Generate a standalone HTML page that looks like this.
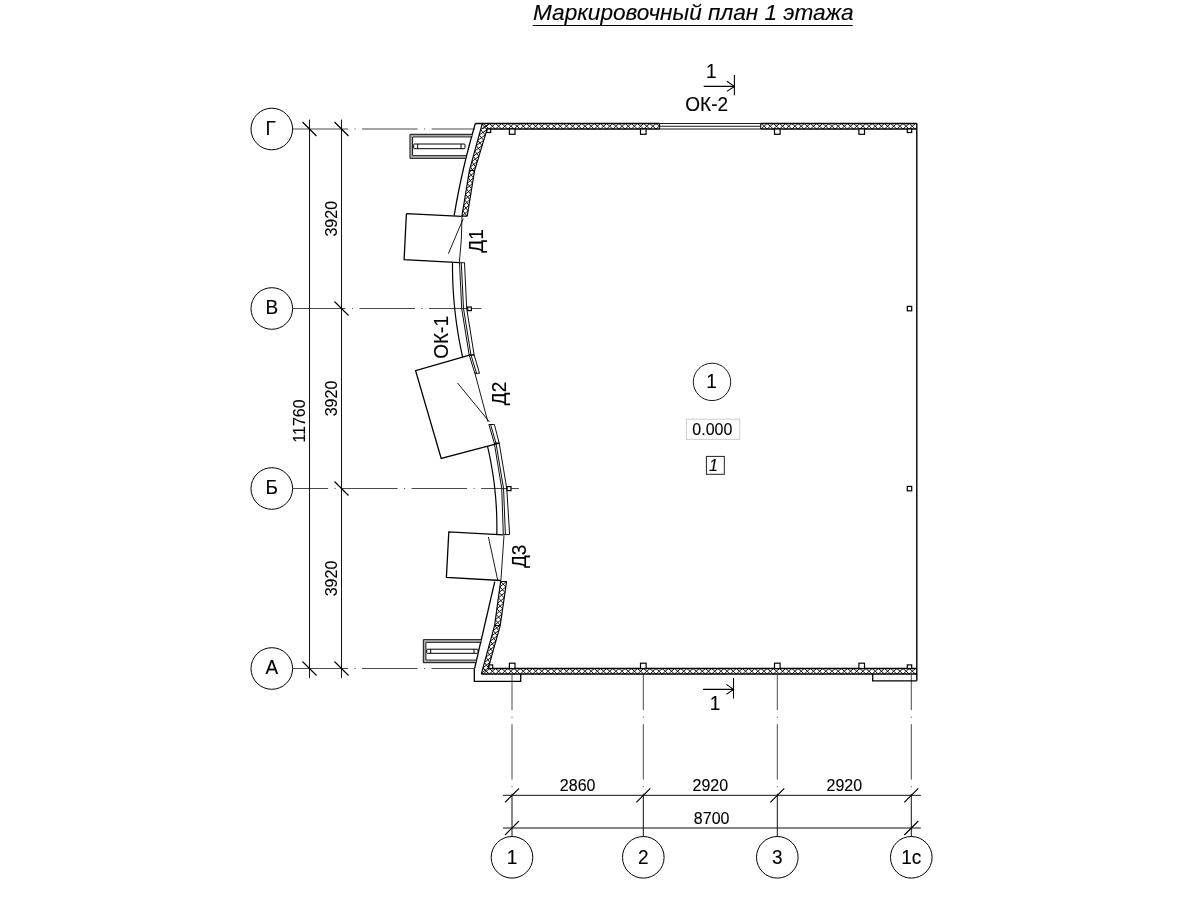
<!DOCTYPE html><html><head><meta charset="utf-8"><style>html,body{margin:0;padding:0;background:#fff;}svg{display:block;will-change:transform;}text{font-family:"Liberation Sans", sans-serif;fill:#000;}</style></head><body>
<svg width="1200" height="900" viewBox="0 0 1200 900">
<rect width="1200" height="900" fill="#fff"/>
<text transform="translate(533.00,20.30)" font-size="22.6" text-anchor="start" font-style="italic" stroke="#000" stroke-width="0.12">Маркировочный план 1 этажа</text>
<line x1="532.7" y1="25.5" x2="852.7" y2="25.5" stroke="#000" stroke-width="1"/>
<circle cx="271.8" cy="129.0" r="20.8" fill="none" stroke="#000" stroke-width="1"/>
<text transform="translate(270.55,134.70) scale(1,1.04)" font-size="19" text-anchor="middle" stroke="#000" stroke-width="0.12">Г</text>
<circle cx="271.8" cy="308.5" r="20.8" fill="none" stroke="#000" stroke-width="1"/>
<text transform="translate(271.80,313.80) scale(1,1.04)" font-size="19" text-anchor="middle" stroke="#000" stroke-width="0.12">В</text>
<circle cx="271.8" cy="488.5" r="20.8" fill="none" stroke="#000" stroke-width="1"/>
<text transform="translate(271.80,493.80) scale(1,1.04)" font-size="19" text-anchor="middle" stroke="#000" stroke-width="0.12">Б</text>
<circle cx="271.8" cy="668.5" r="20.8" fill="none" stroke="#000" stroke-width="1"/>
<text transform="translate(271.80,673.80) scale(1,1.04)" font-size="19" text-anchor="middle" stroke="#000" stroke-width="0.12">А</text>
<path d="M292.6,129.0 L348.1,129.0 M354.6,129.0 L355.6,129.0 M362.1,129.0 L417.6,129.0 M424.1,129.0 L425.1,129.0 M431.6,129.0 L475,129.0" stroke="#4a4a4a" stroke-width="1" fill="none"/>
<path d="M292.6,308.5 L345.5,308.5 M352,308.5 L353,308.5 M359.5,308.5 L415,308.5 M421.5,308.5 L422.5,308.5 M429,308.5 L481.4,308.5" stroke="#4a4a4a" stroke-width="1" fill="none"/>
<path d="M292.6,488.5 L328.1,488.5 M334.6,488.5 L335.6,488.5 M342.1,488.5 L397.6,488.5 M404.1,488.5 L405.1,488.5 M411.6,488.5 L467.1,488.5 M473.6,488.5 L474.6,488.5 M481.1,488.5 L518.8,488.5" stroke="#4a4a4a" stroke-width="1" fill="none"/>
<path d="M292.6,668.5 L348.1,668.5 M354.6,668.5 L355.6,668.5 M362.1,668.5 L417.6,668.5 M424.1,668.5 L425.1,668.5 M431.6,668.5 L474.3,668.5" stroke="#4a4a4a" stroke-width="1" fill="none"/>
<path d="M309.5,119.6 L309.5,677.9 M341.5,119.6 L341.5,677.9" stroke="#111" stroke-width="1" fill="none"/>
<path d="M302.5,122 L316.5,136 M302.5,661.5 L316.5,675.5 M334.5,122 L348.5,136 M334.5,301.5 L348.5,315.5 M334.5,481.5 L348.5,495.5 M334.5,661.5 L348.5,675.5" stroke="#000" stroke-width="1.2" fill="none"/>
<text transform="translate(337.30,218.75) rotate(-90) scale(1,1.04)" font-size="16" text-anchor="middle" stroke="#000" stroke-width="0.12">3920</text>
<text transform="translate(337.30,398.50) rotate(-90) scale(1,1.04)" font-size="16" text-anchor="middle" stroke="#000" stroke-width="0.12">3920</text>
<text transform="translate(337.30,578.50) rotate(-90) scale(1,1.04)" font-size="16" text-anchor="middle" stroke="#000" stroke-width="0.12">3920</text>
<text transform="translate(305.30,421.00) rotate(-90) scale(1,1.04)" font-size="16" text-anchor="middle" stroke="#000" stroke-width="0.12">11760</text>
<circle cx="512.0" cy="857.3" r="20.8" fill="none" stroke="#000" stroke-width="1"/>
<text transform="translate(512.00,863.80) scale(1,1.04)" font-size="19" text-anchor="middle" stroke="#000" stroke-width="0.12">1</text>
<circle cx="643.3" cy="857.3" r="20.8" fill="none" stroke="#000" stroke-width="1"/>
<text transform="translate(643.30,863.80) scale(1,1.04)" font-size="19" text-anchor="middle" stroke="#000" stroke-width="0.12">2</text>
<circle cx="777.3" cy="857.3" r="20.8" fill="none" stroke="#000" stroke-width="1"/>
<text transform="translate(777.30,863.80) scale(1,1.04)" font-size="19" text-anchor="middle" stroke="#000" stroke-width="0.12">3</text>
<circle cx="911.3" cy="857.3" r="20.8" fill="none" stroke="#000" stroke-width="1"/>
<text transform="translate(911.30,863.80) scale(1,1.04)" font-size="19" text-anchor="middle" stroke="#000" stroke-width="0.12">1с</text>
<path d="M512.0,674.5 L512.0,710.2 M512.0,716.7 L512.0,717.7 M512.0,724.2 L512.0,779.7 M512.0,786.2 L512.0,787.2 M512.0,793.7 L512.0,795.3" stroke="#4a4a4a" stroke-width="1" fill="none"/>
<path d="M512.0,795.3 L512.0,836.5" stroke="#111" stroke-width="1" fill="none"/>
<path d="M643.3,674.5 L643.3,710.2 M643.3,716.7 L643.3,717.7 M643.3,724.2 L643.3,779.7 M643.3,786.2 L643.3,787.2 M643.3,793.7 L643.3,795.3" stroke="#4a4a4a" stroke-width="1" fill="none"/>
<path d="M643.3,795.3 L643.3,836.5" stroke="#111" stroke-width="1" fill="none"/>
<path d="M777.3,674.5 L777.3,710.2 M777.3,716.7 L777.3,717.7 M777.3,724.2 L777.3,779.7 M777.3,786.2 L777.3,787.2 M777.3,793.7 L777.3,795.3" stroke="#4a4a4a" stroke-width="1" fill="none"/>
<path d="M777.3,795.3 L777.3,836.5" stroke="#111" stroke-width="1" fill="none"/>
<path d="M911.3,674.5 L911.3,710.2 M911.3,716.7 L911.3,717.7 M911.3,724.2 L911.3,779.7 M911.3,786.2 L911.3,787.2 M911.3,793.7 L911.3,795.3" stroke="#4a4a4a" stroke-width="1" fill="none"/>
<path d="M911.3,795.3 L911.3,836.5" stroke="#111" stroke-width="1" fill="none"/>
<path d="M503,795.3 L920.8,795.3 M503,828 L920.8,828" stroke="#111" stroke-width="1" fill="none"/>
<path d="M505,802.3 L519,788.3 M636.3,802.3 L650.3,788.3 M770.3,802.3 L784.3,788.3 M904.3,802.3 L918.3,788.3 M505,835 L519,821 M904.3,835 L918.3,821" stroke="#000" stroke-width="1.2" fill="none"/>
<text transform="translate(577.65,791.00) scale(1,1.04)" font-size="16" text-anchor="middle" stroke="#000" stroke-width="0.12">2860</text>
<text transform="translate(710.30,791.00) scale(1,1.04)" font-size="16" text-anchor="middle" stroke="#000" stroke-width="0.12">2920</text>
<text transform="translate(844.30,791.00) scale(1,1.04)" font-size="16" text-anchor="middle" stroke="#000" stroke-width="0.12">2920</text>
<text transform="translate(711.65,824.00) scale(1,1.04)" font-size="16" text-anchor="middle" stroke="#000" stroke-width="0.12">8700</text>
<path d="M475.35,123.5 L659.6,123.5 M760.7,123.5 L916.8,123.5" stroke="#000" fill="none" stroke-width="1.5"/>
<path d="M659.6,123.5 L760.7,123.5" stroke="#000" fill="none" stroke-width="0.9"/>
<path d="M486.7,129.0 L659.6,129.0 M760.7,129.0 L916.8,129.0" stroke="#000" fill="none" stroke-width="1.3"/>
<path d="M659.6,123.5 L659.6,129.0 M760.7,123.5 L760.7,129.0" stroke="#000" fill="none" stroke-width="1"/>
<path d="M659.6,126.25 L760.7,126.25 M659.6,129.0 L760.7,129.0" stroke="#000" fill="none" stroke-width="0.9"/>
<clipPath id="cTop"><rect x="482.5" y="123" width="177.1" height="6.5"/><rect x="760.7" y="123" width="156.1" height="6.5"/></clipPath>
<clipPath id="cBot"><rect x="482" y="668" width="434.8" height="6.5"/></clipPath>
<path clip-path="url(#cTop)" d="M470.78,123.5 L476.95,129 M470.78,129 L476.95,123.5 M476.95,123.5 L483.13,129 M476.95,129 L483.13,123.5 M483.13,123.5 L489.3,129 M483.13,129 L489.3,123.5 M489.3,123.5 L495.48,129 M489.3,129 L495.48,123.5 M495.48,123.5 L501.65,129 M495.48,129 L501.65,123.5 M501.65,123.5 L507.83,129 M501.65,129 L507.83,123.5 M507.83,123.5 L514,129 M507.83,129 L514,123.5 M514,123.5 L520.18,129 M514,129 L520.18,123.5 M520.18,123.5 L526.35,129 M520.18,129 L526.35,123.5 M526.35,123.5 L532.52,129 M526.35,129 L532.52,123.5 M532.52,123.5 L538.7,129 M532.52,129 L538.7,123.5 M538.7,123.5 L544.87,129 M538.7,129 L544.87,123.5 M544.87,123.5 L551.05,129 M544.87,129 L551.05,123.5 M551.05,123.5 L557.22,129 M551.05,129 L557.22,123.5 M557.22,123.5 L563.4,129 M557.22,129 L563.4,123.5 M563.4,123.5 L569.57,129 M563.4,129 L569.57,123.5 M569.57,123.5 L575.75,129 M569.57,129 L575.75,123.5 M575.75,123.5 L581.92,129 M575.75,129 L581.92,123.5 M581.92,123.5 L588.1,129 M581.92,129 L588.1,123.5 M588.1,123.5 L594.27,129 M588.1,129 L594.27,123.5 M594.27,123.5 L600.45,129 M594.27,129 L600.45,123.5 M600.45,123.5 L606.62,129 M600.45,129 L606.62,123.5 M606.62,123.5 L612.8,129 M606.62,129 L612.8,123.5 M612.8,123.5 L618.97,129 M612.8,129 L618.97,123.5 M618.97,123.5 L625.15,129 M618.97,129 L625.15,123.5 M625.15,123.5 L631.32,129 M625.15,129 L631.32,123.5 M631.32,123.5 L637.5,129 M631.32,129 L637.5,123.5 M637.5,123.5 L643.67,129 M637.5,129 L643.67,123.5 M643.67,123.5 L649.85,129 M643.67,129 L649.85,123.5 M649.85,123.5 L656.02,129 M649.85,129 L656.02,123.5 M656.02,123.5 L662.2,129 M656.02,129 L662.2,123.5 M662.2,123.5 L668.37,129 M662.2,129 L668.37,123.5 M668.37,123.5 L674.55,129 M668.37,129 L674.55,123.5 M674.55,123.5 L680.72,129 M674.55,129 L680.72,123.5 M680.72,123.5 L686.9,129 M680.72,129 L686.9,123.5 M686.9,123.5 L693.07,129 M686.9,129 L693.07,123.5 M693.07,123.5 L699.25,129 M693.07,129 L699.25,123.5 M699.25,123.5 L705.42,129 M699.25,129 L705.42,123.5 M705.42,123.5 L711.6,129 M705.42,129 L711.6,123.5 M711.6,123.5 L717.77,129 M711.6,129 L717.77,123.5 M717.77,123.5 L723.95,129 M717.77,129 L723.95,123.5 M723.95,123.5 L730.12,129 M723.95,129 L730.12,123.5 M730.12,123.5 L736.3,129 M730.12,129 L736.3,123.5 M736.3,123.5 L742.47,129 M736.3,129 L742.47,123.5 M742.47,123.5 L748.65,129 M742.47,129 L748.65,123.5 M748.65,123.5 L754.82,129 M748.65,129 L754.82,123.5 M754.82,123.5 L761,129 M754.82,129 L761,123.5 M761,123.5 L767.17,129 M761,129 L767.17,123.5 M767.17,123.5 L773.35,129 M767.17,129 L773.35,123.5 M773.35,123.5 L779.52,129 M773.35,129 L779.52,123.5 M779.52,123.5 L785.7,129 M779.52,129 L785.7,123.5 M785.7,123.5 L791.87,129 M785.7,129 L791.87,123.5 M791.87,123.5 L798.05,129 M791.87,129 L798.05,123.5 M798.05,123.5 L804.22,129 M798.05,129 L804.22,123.5 M804.22,123.5 L810.4,129 M804.22,129 L810.4,123.5 M810.4,123.5 L816.57,129 M810.4,129 L816.57,123.5 M816.57,123.5 L822.75,129 M816.57,129 L822.75,123.5 M822.75,123.5 L828.92,129 M822.75,129 L828.92,123.5 M828.92,123.5 L835.1,129 M828.92,129 L835.1,123.5 M835.1,123.5 L841.27,129 M835.1,129 L841.27,123.5 M841.27,123.5 L847.45,129 M841.27,129 L847.45,123.5 M847.45,123.5 L853.62,129 M847.45,129 L853.62,123.5 M853.62,123.5 L859.8,129 M853.62,129 L859.8,123.5 M859.8,123.5 L865.97,129 M859.8,129 L865.97,123.5 M865.97,123.5 L872.15,129 M865.97,129 L872.15,123.5 M872.15,123.5 L878.32,129 M872.15,129 L878.32,123.5 M878.32,123.5 L884.5,129 M878.32,129 L884.5,123.5 M884.5,123.5 L890.67,129 M884.5,129 L890.67,123.5 M890.67,123.5 L896.85,129 M890.67,129 L896.85,123.5 M896.85,123.5 L903.02,129 M896.85,129 L903.02,123.5 M903.02,123.5 L909.2,129 M903.02,129 L909.2,123.5 M909.2,123.5 L915.37,129 M909.2,129 L915.37,123.5 M915.37,123.5 L921.55,129 M915.37,129 L921.55,123.5" stroke="#000" fill="none" stroke-width="0.9"/>
<path d="M916.8,123.5 L916.8,680.8" stroke="#000" fill="none" stroke-width="1.4"/>
<path d="M488,668.5 L916.8,668.5 M481.3,674.0 L916.8,674.0" stroke="#000" fill="none" stroke-width="1.4"/>
<path clip-path="url(#cBot)" d="M470.78,668.5 L476.95,674 M470.78,674 L476.95,668.5 M476.95,668.5 L483.13,674 M476.95,674 L483.13,668.5 M483.13,668.5 L489.3,674 M483.13,674 L489.3,668.5 M489.3,668.5 L495.48,674 M489.3,674 L495.48,668.5 M495.48,668.5 L501.65,674 M495.48,674 L501.65,668.5 M501.65,668.5 L507.83,674 M501.65,674 L507.83,668.5 M507.83,668.5 L514,674 M507.83,674 L514,668.5 M514,668.5 L520.18,674 M514,674 L520.18,668.5 M520.18,668.5 L526.35,674 M520.18,674 L526.35,668.5 M526.35,668.5 L532.52,674 M526.35,674 L532.52,668.5 M532.52,668.5 L538.7,674 M532.52,674 L538.7,668.5 M538.7,668.5 L544.87,674 M538.7,674 L544.87,668.5 M544.87,668.5 L551.05,674 M544.87,674 L551.05,668.5 M551.05,668.5 L557.22,674 M551.05,674 L557.22,668.5 M557.22,668.5 L563.4,674 M557.22,674 L563.4,668.5 M563.4,668.5 L569.57,674 M563.4,674 L569.57,668.5 M569.57,668.5 L575.75,674 M569.57,674 L575.75,668.5 M575.75,668.5 L581.92,674 M575.75,674 L581.92,668.5 M581.92,668.5 L588.1,674 M581.92,674 L588.1,668.5 M588.1,668.5 L594.27,674 M588.1,674 L594.27,668.5 M594.27,668.5 L600.45,674 M594.27,674 L600.45,668.5 M600.45,668.5 L606.62,674 M600.45,674 L606.62,668.5 M606.62,668.5 L612.8,674 M606.62,674 L612.8,668.5 M612.8,668.5 L618.97,674 M612.8,674 L618.97,668.5 M618.97,668.5 L625.15,674 M618.97,674 L625.15,668.5 M625.15,668.5 L631.32,674 M625.15,674 L631.32,668.5 M631.32,668.5 L637.5,674 M631.32,674 L637.5,668.5 M637.5,668.5 L643.67,674 M637.5,674 L643.67,668.5 M643.67,668.5 L649.85,674 M643.67,674 L649.85,668.5 M649.85,668.5 L656.02,674 M649.85,674 L656.02,668.5 M656.02,668.5 L662.2,674 M656.02,674 L662.2,668.5 M662.2,668.5 L668.37,674 M662.2,674 L668.37,668.5 M668.37,668.5 L674.55,674 M668.37,674 L674.55,668.5 M674.55,668.5 L680.72,674 M674.55,674 L680.72,668.5 M680.72,668.5 L686.9,674 M680.72,674 L686.9,668.5 M686.9,668.5 L693.07,674 M686.9,674 L693.07,668.5 M693.07,668.5 L699.25,674 M693.07,674 L699.25,668.5 M699.25,668.5 L705.42,674 M699.25,674 L705.42,668.5 M705.42,668.5 L711.6,674 M705.42,674 L711.6,668.5 M711.6,668.5 L717.77,674 M711.6,674 L717.77,668.5 M717.77,668.5 L723.95,674 M717.77,674 L723.95,668.5 M723.95,668.5 L730.12,674 M723.95,674 L730.12,668.5 M730.12,668.5 L736.3,674 M730.12,674 L736.3,668.5 M736.3,668.5 L742.47,674 M736.3,674 L742.47,668.5 M742.47,668.5 L748.65,674 M742.47,674 L748.65,668.5 M748.65,668.5 L754.82,674 M748.65,674 L754.82,668.5 M754.82,668.5 L761,674 M754.82,674 L761,668.5 M761,668.5 L767.17,674 M761,674 L767.17,668.5 M767.17,668.5 L773.35,674 M767.17,674 L773.35,668.5 M773.35,668.5 L779.52,674 M773.35,674 L779.52,668.5 M779.52,668.5 L785.7,674 M779.52,674 L785.7,668.5 M785.7,668.5 L791.87,674 M785.7,674 L791.87,668.5 M791.87,668.5 L798.05,674 M791.87,674 L798.05,668.5 M798.05,668.5 L804.22,674 M798.05,674 L804.22,668.5 M804.22,668.5 L810.4,674 M804.22,674 L810.4,668.5 M810.4,668.5 L816.57,674 M810.4,674 L816.57,668.5 M816.57,668.5 L822.75,674 M816.57,674 L822.75,668.5 M822.75,668.5 L828.92,674 M822.75,674 L828.92,668.5 M828.92,668.5 L835.1,674 M828.92,674 L835.1,668.5 M835.1,668.5 L841.27,674 M835.1,674 L841.27,668.5 M841.27,668.5 L847.45,674 M841.27,674 L847.45,668.5 M847.45,668.5 L853.62,674 M847.45,674 L853.62,668.5 M853.62,668.5 L859.8,674 M853.62,674 L859.8,668.5 M859.8,668.5 L865.97,674 M859.8,674 L865.97,668.5 M865.97,668.5 L872.15,674 M865.97,674 L872.15,668.5 M872.15,668.5 L878.32,674 M872.15,674 L878.32,668.5 M878.32,668.5 L884.5,674 M878.32,674 L884.5,668.5 M884.5,668.5 L890.67,674 M884.5,674 L890.67,668.5 M890.67,668.5 L896.85,674 M890.67,674 L896.85,668.5 M896.85,668.5 L903.02,674 M896.85,674 L903.02,668.5 M903.02,668.5 L909.2,674 M903.02,674 L909.2,668.5 M909.2,668.5 L915.37,674 M909.2,674 L915.37,668.5 M915.37,668.5 L921.55,674 M915.37,674 L921.55,668.5" stroke="#000" fill="none" stroke-width="0.9"/>
<path d="M474.3,668.5 L474.3,681.3 L520.7,681.3 L520.7,674.0" stroke="#000" fill="none" stroke-width="1.3"/>
<path d="M872.7,674.0 L872.7,680.8 L916.8,680.8" stroke="#000" fill="none" stroke-width="1.3"/>
<rect x="509.4" y="129" width="5.6" height="5.3" fill="#fff" stroke="#000" stroke-width="1.2"/>
<rect x="509.4" y="663.2" width="5.6" height="5.3" fill="#fff" stroke="#000" stroke-width="1.2"/>
<rect x="640.5" y="129" width="5.6" height="5.3" fill="#fff" stroke="#000" stroke-width="1.2"/>
<rect x="640.5" y="663.2" width="5.6" height="5.3" fill="#fff" stroke="#000" stroke-width="1.2"/>
<rect x="774.5" y="129" width="5.6" height="5.3" fill="#fff" stroke="#000" stroke-width="1.2"/>
<rect x="774.5" y="663.2" width="5.6" height="5.3" fill="#fff" stroke="#000" stroke-width="1.2"/>
<rect x="858.9" y="129" width="5.6" height="5.3" fill="#fff" stroke="#000" stroke-width="1.2"/>
<rect x="858.9" y="663.2" width="5.6" height="5.3" fill="#fff" stroke="#000" stroke-width="1.2"/>
<rect x="486.7" y="129" width="4" height="3.5" fill="#fff" stroke="#000" stroke-width="1.2"/>
<rect x="907.3" y="129" width="4.4" height="3.5" fill="#fff" stroke="#000" stroke-width="1.2"/>
<rect x="488.9" y="664.9" width="3.8" height="3.6" fill="#fff" stroke="#000" stroke-width="1.2"/>
<rect x="907.3" y="664.9" width="4.4" height="3.6" fill="#fff" stroke="#000" stroke-width="1.2"/>
<rect x="907.3" y="306.4" width="4.4" height="4.4" fill="#fff" stroke="#000" stroke-width="1.2"/>
<rect x="907.3" y="486.4" width="4.4" height="4.4" fill="#fff" stroke="#000" stroke-width="1.2"/>
<rect x="467.7" y="307" width="3.6" height="3.6" fill="#fff" stroke="#000" stroke-width="1.2"/>
<rect x="507" y="486.6" width="4" height="4" fill="#fff" stroke="#000" stroke-width="1.2"/>
<path d="M475.35,123.5 L474.42,126.68 L473.51,129.85 L472.61,133.03 L471.72,136.2 L470.85,139.38 L470,142.56 L469.15,145.73 L468.32,148.91 L467.51,152.08 L466.71,155.26 L465.92,158.43 L465.15,161.61 L464.39,164.79 L463.64,167.96 L462.91,171.14 L462.19,174.31 L461.49,177.49 L460.8,180.67 L460.13,183.84 L459.47,187.02 L458.82,190.19 L458.19,193.37 L457.57,196.54 L456.97,199.72 L456.38,202.9 L455.8,206.07 L455.24,209.25 L454.69,212.42 L454.15,215.6" stroke="#000" fill="none" stroke-width="1.3"/>
<path d="M452.5,262.7 L452.49,265.84 L452.5,268.99 L452.54,272.13 L452.6,275.27 L452.68,278.42 L452.79,281.56 L452.92,284.7 L453.08,287.85 L453.26,290.99 L453.46,294.13 L453.69,297.28 L453.94,300.42 L454.22,303.56 L454.52,306.71 L454.84,309.85 L455.19,312.99 L455.56,316.14 L455.96,319.28 L456.38,322.42 L456.83,325.57 L457.3,328.71 L457.79,331.85 L458.31,335 L458.85,338.14 L459.41,341.28 L460,344.43 L460.62,347.57 L461.25,350.71 L461.91,353.86 L462.6,357" stroke="#000" fill="none" stroke-width="1.2"/>
<path d="M487.5,446.1 L488.22,449.26 L488.91,452.42 L489.57,455.58 L490.2,458.74 L490.81,461.9 L491.38,465.06 L491.93,468.23 L492.45,471.39 L492.94,474.55 L493.4,477.71 L493.83,480.87 L494.23,484.03 L494.61,487.19 L494.95,490.35 L495.27,493.51 L495.56,496.67 L495.82,499.83 L496.05,502.99 L496.26,506.15 L496.43,509.31 L496.58,512.48 L496.69,515.64 L496.78,518.8 L496.84,521.96 L496.87,525.12 L496.87,528.28 L496.85,531.44 L496.79,534.6" stroke="#000" fill="none" stroke-width="1.2"/>
<path d="M494.76,581.6 L494.01,584.82 L493.27,588.04 L492.52,591.26 L491.77,594.47 L491.03,597.69 L490.28,600.91 L489.53,604.13 L488.79,607.35 L488.04,610.57 L487.29,613.79 L486.55,617 L485.8,620.22 L485.05,623.44 L484.31,626.66 L483.56,629.88 L482.81,633.1 L482.07,636.31 L481.32,639.53 L480.57,642.75 L479.83,645.97 L479.08,649.19 L478.33,652.41 L477.59,655.63 L476.84,658.84 L476.09,662.06 L475.35,665.28 L474.6,668.5" stroke="#000" fill="none" stroke-width="1.3"/>
<path d="M482.3,123.5 L481.65,125.88 L481,128.25 L480.34,130.63 L479.69,133.01 L479.04,135.38 L478.39,137.76 L477.73,140.14 L477.08,142.52 L476.43,144.89 L475.78,147.27 L475.12,149.65 L474.47,152.02 L473.82,154.4 L473.17,156.78 L472.51,159.15 L471.86,161.53 L471.21,163.91 L470.56,166.28 L469.9,168.66 L469.31,171.04 L468.92,173.42 L468.53,175.79 L468.14,178.17 L467.75,180.55 L467.36,182.92 L466.97,185.3 L466.58,187.68 L466.19,190.05 L465.8,192.43 L465.41,194.81 L465.02,197.18 L464.63,199.56 L464.24,201.94 L463.85,204.32 L463.46,206.69 L463.07,209.07 L462.68,211.45 L462.29,213.82 L461.9,216.2 M487.14,129 L486.46,131.24 L485.79,133.47 L485.11,135.71 L484.44,137.94 L483.76,140.18 L483.09,142.42 L482.41,144.65 L481.73,146.89 L481.06,149.12 L480.38,151.36 L479.71,153.59 L479.03,155.83 L478.36,158.07 L477.68,160.3 L477.01,162.54 L476.33,164.77 L475.65,167.01 L474.98,169.25 L474.44,171.48 L474.08,173.72 L473.72,175.95 L473.35,178.19 L472.99,180.43 L472.63,182.66 L472.27,184.9 L471.91,187.13 L471.54,189.37 L471.18,191.61 L470.82,193.84 L470.46,196.08 L470.1,198.31 L469.73,200.55 L469.37,202.78 L469.01,205.02 L468.65,207.26 L468.29,209.49 L467.92,211.73 L467.56,213.96 L467.2,216.2" stroke="#000" fill="none" stroke-width="1.15"/>
<path d="M482.08,124.3 L486.95,129.63 M488.56,124.3 L480.62,129.63 M480.62,129.63 L485.33,134.97 M486.95,129.63 L479.15,134.97 M479.15,134.97 L483.72,140.3 M485.33,134.97 L477.69,140.3 M477.69,140.3 L482.11,145.64 M483.72,140.3 L476.22,145.64 M476.22,145.64 L480.5,150.97 M482.11,145.64 L474.76,150.97 M474.76,150.97 L478.89,156.31 M480.5,150.97 L473.3,156.31 M473.3,156.31 L477.28,161.64 M478.89,156.31 L471.83,161.64 M471.83,161.64 L475.66,166.98 M477.28,161.64 L470.37,166.98 M470.37,166.98 L474.3,172.36 M475.66,166.98 L469.09,172.36 M469.09,172.36 L473.41,177.84 M474.3,172.36 L468.2,177.84 M468.2,177.84 L472.52,183.32 M473.41,177.84 L467.3,183.32 M467.3,183.32 L471.64,188.8 M472.52,183.32 L466.4,188.8 M466.4,188.8 L470.75,194.28 M471.64,188.8 L465.5,194.28 M465.5,194.28 L469.86,199.76 M470.75,194.28 L464.6,199.76 M464.6,199.76 L468.97,205.24 M469.86,199.76 L463.7,205.24 M463.7,205.24 L468.09,210.72 M468.97,205.24 L462.8,210.72 M462.8,210.72 L467.2,216.2 M468.09,210.72 L461.9,216.2" stroke="#000" fill="none" stroke-width="0.9"/>
<path d="M500.6,581.5 L500.28,583.87 L499.95,586.24 L499.63,588.62 L499.31,590.99 L498.98,593.36 L498.66,595.73 L498.34,598.1 L498.01,600.47 L497.69,602.85 L497.37,605.22 L497.04,607.59 L496.72,609.96 L496.4,612.33 L496.07,614.71 L495.75,617.08 L495.43,619.45 L495.1,621.82 L494.78,624.19 L494.31,626.56 L493.66,628.94 L493.01,631.31 L492.36,633.68 L491.71,636.05 L491.06,638.42 L490.41,640.79 L489.76,643.17 L489.1,645.54 L488.45,647.91 L487.8,650.28 L487.15,652.65 L486.5,655.03 L485.85,657.4 L485.2,659.77 L484.55,662.14 L483.9,664.51 L483.25,666.88 L482.6,669.26 L481.95,671.63 L481.3,674 M506.6,581.5 L506.28,583.73 L505.95,585.96 L505.63,588.19 L505.3,590.42 L504.98,592.65 L504.65,594.88 L504.33,597.12 L504,599.35 L503.68,601.58 L503.36,603.81 L503.03,606.04 L502.71,608.27 L502.38,610.5 L502.06,612.73 L501.73,614.96 L501.41,617.19 L501.08,619.42 L500.76,621.65 L500.43,623.88 L500.03,626.12 L499.41,628.35 L498.78,630.58 L498.16,632.81 L497.54,635.04 L496.92,637.27 L496.29,639.5 L495.67,641.73 L495.05,643.96 L494.43,646.19 L493.8,648.42 L493.18,650.65 L492.56,652.88 L491.94,655.12 L491.31,657.35 L490.69,659.58 L490.07,661.81 L489.45,664.04 L488.82,666.27 L488.2,668.5" stroke="#000" fill="none" stroke-width="1.15"/>
<path d="M500.6,581.5 L505.81,586.96 M506.6,581.5 L499.86,586.96 M499.86,586.96 L505.01,592.43 M505.81,586.96 L499.11,592.43 M499.11,592.43 L504.22,597.89 M505.01,592.43 L498.37,597.89 M498.37,597.89 L503.42,603.35 M504.22,597.89 L497.62,603.35 M497.62,603.35 L502.63,608.82 M503.42,603.35 L496.88,608.82 M496.88,608.82 L501.83,614.28 M502.63,608.82 L496.13,614.28 M496.13,614.28 L501.04,619.74 M501.83,614.28 L495.39,619.74 M495.39,619.74 L500.24,625.21 M501.04,619.74 L494.64,625.21 M494.64,625.21 L498.8,630.53 M500.24,625.21 L493.22,630.53 M493.22,630.53 L497.31,635.85 M498.8,630.53 L491.76,635.85 M491.76,635.85 L495.83,641.17 M497.31,635.85 L490.3,641.17 M490.3,641.17 L494.34,646.48 M495.83,641.17 L488.85,646.48 M488.85,646.48 L492.86,651.8 M494.34,646.48 L487.39,651.8 M487.39,651.8 L491.38,657.12 M492.86,651.8 L485.93,657.12 M485.93,657.12 L489.89,662.44 M491.38,657.12 L484.47,662.44 M484.47,662.44 L488.41,667.75 M489.89,662.44 L483.01,667.75 M483.01,667.75 L488.2,673.2 M488.41,667.75 L481.52,673.2" stroke="#000" fill="none" stroke-width="0.9"/>
<path d="M461.9,216.2 L467.2,216.2 M500.6,581.5 L506.6,581.5" stroke="#000" fill="none" stroke-width="1.2"/>
<path d="M469.4,170.5 L474.6,170.5 M494.6,625.5 L500.2,625.5" stroke="#000" fill="none" stroke-width="1.1"/>
<path d="M459.5,262.7 L461.7,308.5 L469.16,355 M461.3,262.7 L463.5,308.5 L470.96,355 M464.5,262.7 L466.7,308.5 L474.16,355 M459.5,262.7 L464.5,262.7 M469.16,355 L474.16,355 M469.16,355 L474.9,373.3 M470.96,355 L476.6,373.3 M474.16,355 L479.5,373.3 M469.16,355 L474.16,355 M474.9,373.3 L479.5,373.3 M488.9,424.5 L494.3,443.2 M490.6,424.5 L496,443.2 M494.4,424.5 L499.2,443.2 M488.9,424.5 L494.4,424.5 M494.3,443.2 L499.2,443.2 M494.3,443.2 L501.76,488.5 L503.3,534.6 M496,443.2 L503.56,488.5 L505.4,534.6 M499.2,443.2 L506.76,488.5 L509.6,534.6 M494.3,443.2 L499.2,443.2 M503.3,534.6 L509.6,534.6" stroke="#000" fill="none" stroke-width="0.95"/>
<path d="M406.4,213.7 L461.6,216.3 M406.4,213.7 L404.1,259.6 L459.3,262.7" stroke="#000" fill="none" stroke-width="1.3"/>
<path d="M462,216.3 Q462,240 459.3,262.7" stroke="#000" fill="none" stroke-width="0.9"/>
<path d="M463.2,218.7 L448.4,253.7" stroke="#000" fill="none" stroke-width="0.9"/>
<path d="M469.5,355.2 L415.6,370.7 L441.2,458.5 L499.2,443.2" stroke="#000" fill="none" stroke-width="1.3"/>
<path d="M474.6,372 L487.9,421.8" stroke="#000" fill="none" stroke-width="0.9"/>
<path d="M457.5,383 L489.4,421.8" stroke="#000" fill="none" stroke-width="0.9"/>
<path d="M503.3,534.9 L448.8,531.9 L446.4,577.4 L500.9,580.5" stroke="#000" fill="none" stroke-width="1.3"/>
<path d="M504,535.4 L500.9,580.5" stroke="#000" fill="none" stroke-width="0.9"/>
<path d="M488.4,537 L497.8,580.5" stroke="#000" fill="none" stroke-width="0.9"/>
<path d="M472.25,135.6 L411.3,135.6 L411.3,157 L465.95,157" stroke="#aaa" stroke-width="1.5" fill="none"/><path d="M472.25,134.3 L410,134.3 L410,158.3 L465.95,158.3" stroke="#000" fill="none" stroke-width="1.0"/><path d="M472.25,136.9 L412.6,136.9 L412.6,155.7 L465.95,155.7" stroke="#000" fill="none" stroke-width="0.95"/><rect x="413.7" y="144" width="51.3" height="4.7" rx="0.8" fill="#fff" stroke="#000" stroke-width="1.0"/><path d="M417.7,144 L417.7,148.7 M461,144 L461,148.7" stroke="#000" fill="none" stroke-width="1.0"/>
<path d="M481.28,641 L424.6,641 L424.6,661.4 L475.95,661.4" stroke="#aaa" stroke-width="1.5" fill="none"/><path d="M481.28,639.7 L423.3,639.7 L423.3,662.7 L475.95,662.7" stroke="#000" fill="none" stroke-width="1.0"/><path d="M481.28,642.3 L425.9,642.3 L425.9,660.1 L475.95,660.1" stroke="#000" fill="none" stroke-width="0.95"/><rect x="426.7" y="649.2" width="51.3" height="4.1" rx="0.8" fill="#fff" stroke="#000" stroke-width="1.0"/><path d="M430.7,649.2 L430.7,653.3 M474,649.2 L474,653.3" stroke="#000" fill="none" stroke-width="1.0"/>
<path d="M734.4,75 L734.4,95.3 M703.7,86.4 L734.4,86.4 M726.9,81.2 L734.4,86.4 L726.9,91.4" stroke="#000" stroke-width="1.1" fill="none"/>
<text transform="translate(711.30,78.00) scale(1,1.04)" font-size="19" text-anchor="middle" stroke="#000" stroke-width="0.12">1</text>
<text transform="translate(706.70,111.00) scale(1,1.04)" font-size="19" text-anchor="middle" stroke="#000" stroke-width="0.12">ОК-2</text>
<path d="M733.5,678 L733.5,698.6 M703,689.4 L733.5,689.4 M726.4,684.4 L733.5,689.4 L726.4,694.4" stroke="#000" stroke-width="1.1" fill="none"/>
<text transform="translate(715.00,709.90) scale(1,1.04)" font-size="19" text-anchor="middle" stroke="#000" stroke-width="0.12">1</text>
<circle cx="712" cy="381.9" r="18.7" fill="none" stroke="#000" stroke-width="0.9"/>
<text transform="translate(711.50,387.50) scale(1,1.04)" font-size="19" text-anchor="middle" stroke="#000" stroke-width="0.12">1</text>
<rect x="686.4" y="419.2" width="53.4" height="20.2" fill="none" stroke="#ccc" stroke-width="1"/>
<text transform="translate(712.30,434.80) scale(1,1.04)" font-size="16" text-anchor="middle" stroke="#000" stroke-width="0.12">0.000</text>
<rect x="706.4" y="456.4" width="17.9" height="17.9" fill="none" stroke="#222" stroke-width="1"/>
<text transform="translate(713.40,471.00)" font-size="16" text-anchor="middle" font-style="italic" stroke="#000" stroke-width="0.12">1</text>
<text transform="translate(482.80,241.00) rotate(-90) scale(1,1.04)" font-size="19" text-anchor="middle" stroke="#000" stroke-width="0.12">Д1</text>
<text transform="translate(506.20,393.50) rotate(-90) scale(1,1.04)" font-size="19" text-anchor="middle" stroke="#000" stroke-width="0.12">Д2</text>
<text transform="translate(526.20,556.40) rotate(-90) scale(1,1.04)" font-size="19" text-anchor="middle" stroke="#000" stroke-width="0.12">Д3</text>
<text transform="translate(447.80,337.40) rotate(-90) scale(1,1.04)" font-size="19" text-anchor="middle" stroke="#000" stroke-width="0.12">ОК-1</text>
</svg></body></html>
